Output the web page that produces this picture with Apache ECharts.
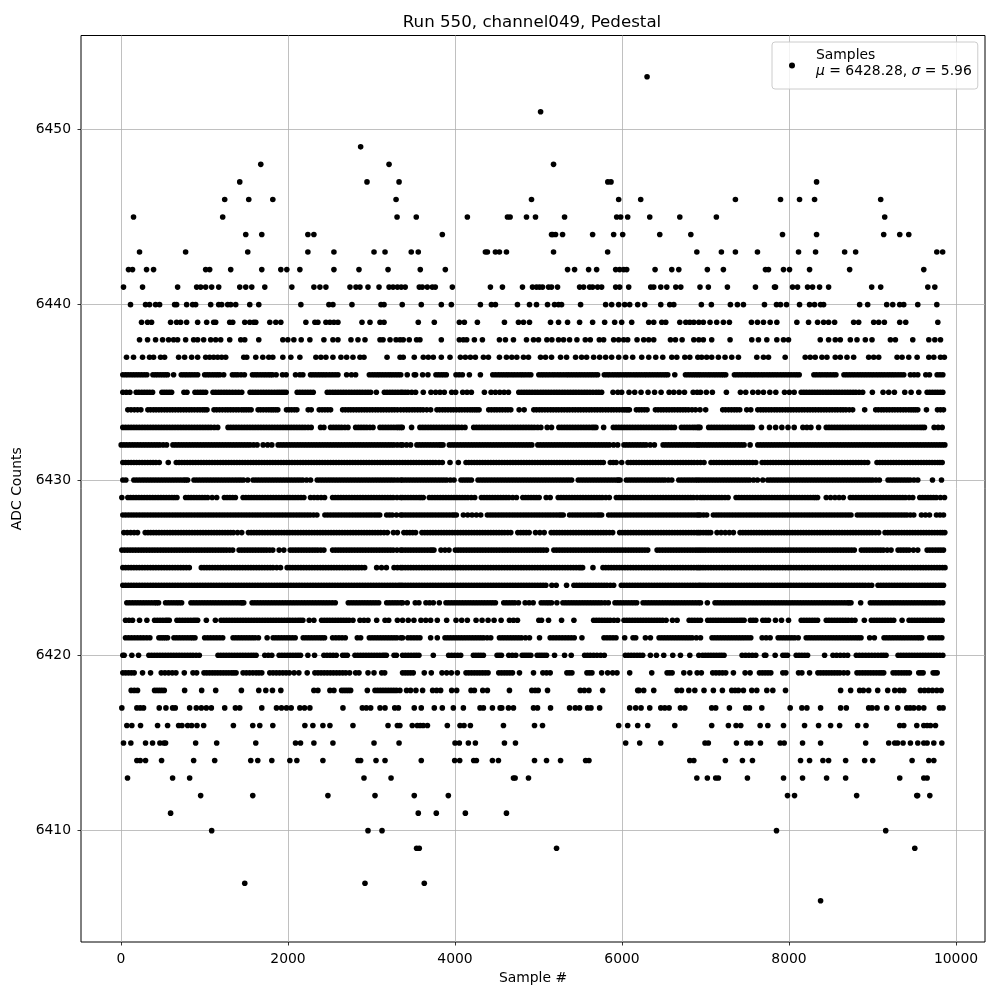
<!DOCTYPE html>
<html>
<head>
<meta charset="utf-8">
<title>Run 550, channel049, Pedestal</title>
<script src="https://cdn.jsdelivr.net/npm/echarts@6/dist/echarts.min.js"></script>
<style>
html, body { margin: 0; padding: 0; background: #fff; }
#main { width: 1000px; height: 1000px; }
</style>
</head>
<body>
<div id="main"></div>
<script>
const xTicks = [0, 2000, 4000, 6000, 8000, 10000]
const yTicks = [6410, 6420, 6430, 6440, 6450]
// sample numbers, one list per ADC level
const s6453 = [6300]
const s6451 = [5025]
const s6449 = [2870]
const s6448 = [1674, 3210, 5180]
const s6447 = [1422, 2946, 3330, 5830, 5868, 8330]
const s6446 = [1242, 1530, 1818, 3294, 4916, 5960, 6224, 7358, 7898, 8126, 8306, 9098]
const s6445 = [150, 1218, 3306, 3536, 4148, 4628, 4660, 4856, 4964, 5312, 5936, 5984, 6068, 6332, 6692, 7130, 9146]
const s6444 = [1494, 1686, 2238, 2310, 3848, 5156, 5170, 5204, 5288, 5648, 5900, 6008, 6452, 6824, 7922, 8330, 9134, 9326, 9434]
const s6443 = [222, 774, 1518, 2238, 2550, 3030, 3162, 3476, 3560, 4364, 4388, 4484, 4532, 4616, 5180, 5828, 6896, 7190, 7358, 7622, 8114, 8318, 8666, 8798, 9770, 9840]
const s6442 = [90, 138, 306, 390, 1014, 1062, 1314, 1686, 1914, 1986, 2142, 2550, 2850, 3198, 3584, 3884, 5348, 5432, 5600, 5696, 5924, 5972, 6020, 6056, 6396, 6596, 6680, 7022, 7214, 7718, 7754, 7934, 8006, 8246, 8726, 9614]
const s6441 = [30, 258, 678, 906, 954, 1014, 1086, 1170, 1422, 1494, 1566, 1722, 2046, 2310, 2382, 2454, 2742, 2814, 2862, 2958, 3090, 3210, 3258, 3310, 3356, 3404, 3572, 3608, 3668, 3728, 3764, 3968, 4424, 4568, 4808, 4928, 4976, 5012, 5048, 5120, 5156, 5228, 5492, 5540, 5612, 5648, 5708, 5756, 5924, 5972, 6080, 6344, 6380, 6464, 6536, 6644, 6704, 6934, 7034, 7262, 7598, 7826, 7838, 8042, 8102, 8222, 8282, 8366, 8474, 8990, 9098, 9662, 9746]
const s6440 = [114, 294, 342, 414, 462, 642, 666, 786, 858, 894, 1074, 1170, 1206, 1278, 1314, 1374, 1542, 1650, 2154, 2490, 2538, 2766, 3114, 3150, 3368, 3596, 3836, 3956, 4304, 4436, 4484, 4748, 4892, 4976, 5108, 5192, 5240, 5276, 5504, 5804, 5876, 5960, 6032, 6092, 6188, 6272, 6464, 6572, 6620, 6950, 7070, 7298, 7382, 7454, 7706, 7850, 7898, 7970, 8126, 8246, 8306, 8378, 8414, 8846, 8942, 9170, 9242, 9326, 9374, 9542, 9770]
const s6439 = [246, 318, 366, 594, 666, 714, 786, 918, 1026, 1110, 1134, 1302, 1338, 1482, 1542, 1590, 1614, 1782, 1854, 1914, 2214, 2322, 2358, 2454, 2502, 2550, 2598, 2886, 2982, 3102, 3150, 3560, 3752, 4052, 4112, 4268, 4592, 4760, 4820, 4892, 5144, 5240, 5348, 5492, 5648, 5792, 5912, 5996, 6116, 6320, 6380, 6476, 6524, 6692, 6764, 6812, 6860, 6920, 6974, 7054, 7134, 7214, 7286, 7550, 7622, 7694, 7774, 7854, 8094, 8234, 8342, 8414, 8474, 8546, 8774, 8834, 9014, 9074, 9142, 9326, 9398, 9782]
const s6438 = [222, 318, 414, 498, 570, 630, 678, 774, 870, 918, 990, 1074, 1134, 1194, 1302, 1434, 1482, 1650, 1938, 1998, 2070, 2158, 2262, 2430, 2538, 2598, 2754, 2838, 2922, 3102, 3138, 3222, 3294, 3342, 3380, 3452, 3540, 3580, 3836, 4052, 4100, 4140, 4232, 4328, 4532, 4604, 4700, 4856, 4940, 5000, 5100, 5160, 5240, 5300, 5372, 5460, 5560, 5620, 5728, 5780, 5900, 5960, 6020, 6068, 6180, 6260, 6320, 6380, 6580, 6640, 6720, 6860, 6920, 6974, 7074, 7294, 7554, 7634, 7734, 7854, 7934, 7994, 8374, 8474, 8554, 8614, 8734, 8814, 8914, 8994, 9214, 9274, 9482, 9674, 9746, 9814]
const s6437 = [66, 150, 258, 342, 390, 474, 522, 690, 762, 846, 918, 1014, 1062, 1110, 1158, 1206, 1254, 1470, 1506, 1614, 1698, 1770, 1818, 1938, 2034, 2142, 2334, 2394, 2454, 2538, 2634, 2702, 2778, 2862, 2910, 3186, 3342, 3380, 3512, 3620, 3680, 3740, 3836, 3940, 4064, 4124, 4184, 4244, 4340, 4400, 4532, 4616, 4680, 4740, 4820, 4880, 5024, 5084, 5156, 5264, 5336, 5444, 5516, 5576, 5660, 5732, 5804, 5876, 5960, 6044, 6128, 6236, 6320, 6404, 6488, 6596, 6656, 6752, 6812, 6908, 6954, 7014, 7074, 7154, 7234, 7314, 7394, 7614, 7694, 7754, 7954, 8194, 8254, 8314, 8394, 8454, 8554, 8614, 8694, 8774, 8954, 9014, 9074, 9294, 9354, 9434, 9534, 9674, 9734, 9814, 9860]
const s6436 = [22, 55, 85, 118, 150, 182, 214, 246, 278, 310, 382, 412, 441, 472, 502, 530, 558, 630, 722, 754, 785, 818, 850, 884, 918, 1002, 1032, 1062, 1094, 1125, 1155, 1184, 1230, 1334, 1366, 1398, 1438, 1478, 1574, 1605, 1635, 1668, 1700, 1730, 1762, 1790, 1815, 1858, 1934, 1978, 2090, 2142, 2178, 2270, 2300, 2332, 2364, 2396, 2428, 2460, 2496, 2530, 2564, 2598, 2702, 2760, 2810, 2974, 3008, 3040, 3072, 3102, 3134, 3166, 3198, 3228, 3258, 3290, 3320, 3350, 3428, 3512, 3528, 3612, 3676, 3772, 3804, 3836, 3866, 3896, 4012, 4050, 4088, 4172, 4304, 4452, 4486, 4520, 4552, 4584, 4616, 4646, 4680, 4712, 4746, 4780, 4810, 4842, 4876, 4908, 5004, 5036, 5066, 5098, 5130, 5164, 5196, 5230, 5262, 5296, 5330, 5360, 5392, 5424, 5456, 5488, 5520, 5552, 5584, 5616, 5646, 5678, 5708, 5788, 5820, 5850, 5884, 5916, 5948, 5978, 6012, 6044, 6074, 6106, 6140, 6172, 6204, 6236, 6268, 6298, 6330, 6362, 6394, 6426, 6458, 6490, 6520, 6548, 6632, 6760, 6792, 6824, 6854, 6884, 6912, 6940, 6972, 7004, 7036, 7066, 7098, 7128, 7160, 7190, 7216, 7242, 7346, 7378, 7410, 7442, 7476, 7508, 7540, 7572, 7604, 7636, 7670, 7702, 7736, 7768, 7800, 7832, 7864, 7898, 7930, 7962, 7994, 8026, 8060, 8092, 8122, 8298, 8330, 8364, 8396, 8430, 8462, 8496, 8530, 8562, 8658, 8690, 8722, 8754, 8786, 8820, 8852, 8884, 8916, 8948, 8980, 9012, 9046, 9078, 9110, 9142, 9176, 9208, 9240, 9272, 9306, 9340, 9374, 9454, 9498, 9542, 9638, 9682, 9774, 9808, 9842]
const s6435 = [22, 64, 106, 182, 214, 248, 280, 312, 344, 378, 490, 518, 548, 578, 606, 754, 790, 886, 918, 950, 982, 1014, 1102, 1134, 1168, 1200, 1234, 1266, 1300, 1336, 1372, 1408, 1446, 1546, 1578, 1610, 1642, 1676, 1708, 1740, 1772, 1804, 1838, 1870, 1898, 1926, 1952, 1978, 2110, 2142, 2174, 2206, 2238, 2270, 2302, 2470, 2502, 2536, 2568, 2600, 2632, 2664, 2696, 2730, 2762, 2796, 2828, 2860, 2892, 2926, 2958, 2990, 3058, 3154, 3186, 3220, 3252, 3284, 3316, 3350, 3372, 3404, 3436, 3482, 3528, 3620, 3712, 3768, 3820, 3872, 3960, 4008, 4092, 4144, 4196, 4352, 4432, 4484, 4536, 4588, 4640, 4764, 4796, 4828, 4860, 4892, 4924, 4958, 4990, 5024, 5056, 5088, 5120, 5152, 5186, 5218, 5250, 5284, 5316, 5350, 5382, 5416, 5448, 5482, 5516, 5550, 5582, 5616, 5652, 5690, 5722, 5756, 5892, 5950, 5996, 6084, 6152, 6228, 6312, 6390, 6468, 6564, 6620, 6684, 6748, 6852, 6900, 6940, 7010, 7082, 7250, 7418, 7482, 7566, 7630, 7694, 7770, 7842, 7946, 8004, 8062, 8146, 8178, 8210, 8244, 8276, 8308, 8340, 8372, 8406, 8440, 8472, 8504, 8538, 8570, 8602, 8636, 8670, 8702, 8734, 8768, 8800, 8840, 8882, 8998, 9126, 9194, 9262, 9386, 9462, 9554, 9654, 9686, 9718, 9750, 9780, 9812, 9842]
const s6434 = [82, 120, 160, 198, 238, 322, 354, 388, 420, 454, 486, 520, 552, 586, 618, 650, 684, 716, 750, 782, 816, 848, 880, 914, 946, 978, 1004, 1030, 1114, 1146, 1180, 1214, 1248, 1280, 1312, 1344, 1378, 1410, 1444, 1472, 1500, 1530, 1558, 1642, 1672, 1704, 1738, 1770, 1798, 1824, 1852, 1878, 1982, 2012, 2044, 2076, 2106, 2242, 2278, 2374, 2408, 2442, 2476, 2510, 2654, 2686, 2720, 2752, 2784, 2818, 2850, 2882, 2914, 2946, 2980, 3012, 3046, 3078, 3112, 3144, 3178, 3210, 3244, 3276, 3310, 3350, 3386, 3420, 3452, 3486, 3518, 3552, 3584, 3618, 3662, 3708, 3784, 3816, 3850, 3882, 3916, 3950, 3982, 4016, 4050, 4082, 4116, 4148, 4180, 4208, 4236, 4262, 4288, 4404, 4436, 4470, 4502, 4536, 4568, 4602, 4634, 4668, 4768, 4828, 4944, 4976, 5010, 5042, 5076, 5110, 5144, 5176, 5210, 5242, 5276, 5308, 5342, 5374, 5408, 5440, 5474, 5506, 5540, 5572, 5606, 5638, 5672, 5704, 5738, 5770, 5804, 5836, 5870, 5902, 5936, 5968, 6002, 6026, 6050, 6070, 6088, 6172, 6204, 6236, 6268, 6300, 6400, 6432, 6466, 6498, 6532, 6564, 6598, 6630, 6664, 6696, 6730, 6762, 6796, 6838, 6880, 6934, 7002, 7206, 7240, 7276, 7310, 7344, 7376, 7410, 7494, 7542, 7626, 7660, 7692, 7724, 7758, 7790, 7824, 7856, 7890, 7922, 7956, 7988, 8022, 8054, 8088, 8120, 8154, 8186, 8220, 8252, 8286, 8318, 8352, 8384, 8418, 8450, 8484, 8516, 8550, 8582, 8616, 8648, 8682, 8722, 8762, 8906, 9038, 9070, 9104, 9136, 9170, 9202, 9236, 9268, 9302, 9334, 9368, 9400, 9434, 9462, 9490, 9516, 9542, 9646, 9778, 9814, 9850]
const s6433 = [22, 55, 88, 121, 154, 187, 220, 253, 286, 319, 352, 385, 418, 451, 484, 517, 550, 583, 616, 649, 682, 715, 748, 781, 814, 847, 880, 913, 946, 979, 1012, 1045, 1078, 1118, 1158, 1282, 1314, 1346, 1379, 1412, 1445, 1478, 1511, 1544, 1577, 1610, 1643, 1676, 1709, 1742, 1775, 1808, 1841, 1874, 1907, 1940, 1973, 2006, 2039, 2072, 2105, 2138, 2171, 2204, 2241, 2278, 2390, 2430, 2510, 2543, 2576, 2609, 2642, 2680, 2718, 2810, 2843, 2876, 2909, 2942, 2980, 3018, 3102, 3135, 3168, 3201, 3234, 3267, 3300, 3325, 3350, 3368, 3480, 3580, 3613, 3646, 3679, 3712, 3745, 3778, 3811, 3844, 3877, 3910, 3943, 3976, 4009, 4042, 4081, 4120, 4224, 4257, 4290, 4323, 4356, 4389, 4422, 4455, 4488, 4521, 4554, 4587, 4620, 4653, 4686, 4719, 4752, 4785, 4818, 4851, 4884, 4917, 4950, 4989, 5028, 5104, 5156, 5244, 5277, 5310, 5343, 5376, 5409, 5442, 5475, 5508, 5541, 5574, 5607, 5640, 5664, 5688, 5780, 5896, 5929, 5962, 5995, 6028, 6061, 6094, 6127, 6160, 6193, 6226, 6259, 6292, 6325, 6358, 6391, 6424, 6457, 6490, 6523, 6556, 6592, 6628, 6712, 6745, 6778, 6811, 6844, 6872, 6900, 6917, 6934, 7038, 7071, 7104, 7137, 7170, 7203, 7236, 7269, 7302, 7335, 7368, 7401, 7434, 7467, 7500, 7531, 7562, 7670, 7766, 7840, 7914, 7988, 8062, 8166, 8214, 8262, 8354, 8446, 8479, 8512, 8545, 8578, 8611, 8644, 8677, 8710, 8743, 8776, 8809, 8842, 8875, 8908, 8941, 8974, 9007, 9040, 9073, 9106, 9139, 9172, 9205, 9238, 9271, 9304, 9337, 9370, 9403, 9436, 9469, 9502, 9535, 9568, 9595, 9622, 9738, 9786, 9834]
const s6432 = [2, 35, 68, 101, 134, 167, 200, 233, 266, 299, 332, 365, 398, 431, 464, 505, 546, 622, 655, 688, 721, 754, 787, 820, 853, 886, 919, 952, 985, 1018, 1051, 1084, 1117, 1150, 1183, 1216, 1249, 1282, 1315, 1348, 1381, 1414, 1447, 1480, 1513, 1546, 1588, 1630, 1702, 1756, 1806, 1882, 1915, 1948, 1981, 2014, 2047, 2080, 2113, 2146, 2179, 2212, 2245, 2278, 2311, 2344, 2377, 2410, 2443, 2476, 2509, 2542, 2575, 2608, 2641, 2674, 2707, 2740, 2773, 2806, 2839, 2872, 2905, 2938, 2971, 3004, 3037, 3070, 3103, 3136, 3169, 3202, 3235, 3268, 3309, 3350, 3372, 3420, 3468, 3544, 3577, 3610, 3643, 3676, 3709, 3742, 3775, 3808, 3832, 3856, 3932, 3965, 3998, 4031, 4064, 4097, 4130, 4163, 4196, 4229, 4262, 4295, 4328, 4361, 4394, 4427, 4460, 4493, 4526, 4559, 4592, 4625, 4658, 4691, 4724, 4757, 4790, 4823, 4856, 4888, 4920, 4992, 5025, 5058, 5091, 5124, 5157, 5190, 5223, 5256, 5289, 5322, 5355, 5388, 5421, 5454, 5487, 5520, 5553, 5586, 5619, 5652, 5685, 5718, 5751, 5784, 5817, 5850, 5899, 5948, 6024, 6057, 6090, 6123, 6156, 6189, 6222, 6255, 6288, 6338, 6388, 6492, 6525, 6558, 6591, 6624, 6657, 6690, 6723, 6756, 6789, 6822, 6855, 6888, 6911, 6934, 6967, 7000, 7033, 7066, 7099, 7132, 7165, 7198, 7231, 7264, 7297, 7330, 7363, 7396, 7429, 7462, 7534, 7626, 7659, 7692, 7725, 7758, 7791, 7824, 7857, 7890, 7923, 7956, 7989, 8022, 8055, 8088, 8121, 8154, 8187, 8220, 8253, 8286, 8319, 8352, 8385, 8418, 8451, 8484, 8517, 8550, 8583, 8616, 8649, 8682, 8715, 8748, 8781, 8814, 8847, 8880, 8913, 8946, 8979, 9012, 9045, 9078, 9111, 9144, 9177, 9210, 9243, 9276, 9309, 9342, 9375, 9408, 9441, 9474, 9507, 9540, 9573, 9606, 9639, 9672, 9705, 9738, 9771, 9804, 9835, 9866]
const s6431 = [22, 55, 88, 121, 154, 187, 220, 253, 286, 319, 352, 385, 418, 458, 566, 662, 695, 728, 761, 794, 827, 860, 893, 926, 959, 992, 1025, 1058, 1091, 1124, 1157, 1190, 1223, 1256, 1289, 1322, 1355, 1388, 1421, 1454, 1487, 1520, 1553, 1586, 1619, 1652, 1685, 1718, 1751, 1784, 1817, 1850, 1883, 1916, 1949, 1982, 2015, 2048, 2081, 2114, 2147, 2180, 2213, 2246, 2279, 2312, 2345, 2378, 2411, 2444, 2477, 2510, 2543, 2576, 2609, 2642, 2675, 2708, 2741, 2774, 2807, 2840, 2873, 2906, 2939, 2972, 3005, 3038, 3071, 3104, 3137, 3170, 3203, 3236, 3269, 3302, 3337, 3372, 3405, 3438, 3471, 3504, 3537, 3570, 3603, 3636, 3669, 3702, 3735, 3768, 3808, 3848, 3940, 4040, 4132, 4165, 4198, 4231, 4264, 4297, 4330, 4363, 4396, 4429, 4462, 4495, 4528, 4561, 4594, 4627, 4660, 4693, 4726, 4759, 4792, 4825, 4858, 4891, 4924, 4957, 4990, 5023, 5056, 5089, 5122, 5155, 5188, 5221, 5254, 5287, 5320, 5353, 5386, 5419, 5452, 5485, 5518, 5551, 5584, 5617, 5650, 5683, 5716, 5746, 5776, 5860, 5895, 5930, 5996, 6072, 6105, 6138, 6171, 6204, 6237, 6270, 6303, 6336, 6369, 6402, 6435, 6468, 6501, 6534, 6567, 6600, 6633, 6666, 6699, 6732, 6765, 6798, 6831, 6864, 6902, 6940, 6982, 7066, 7099, 7132, 7165, 7198, 7231, 7264, 7297, 7330, 7363, 7396, 7429, 7462, 7495, 7528, 7565, 7602, 7678, 7711, 7744, 7777, 7810, 7843, 7876, 7909, 7942, 7975, 8008, 8041, 8074, 8107, 8140, 8173, 8206, 8239, 8272, 8305, 8338, 8371, 8404, 8437, 8470, 8503, 8536, 8569, 8602, 8635, 8668, 8701, 8734, 8767, 8800, 8833, 8866, 8904, 8942, 9054, 9087, 9120, 9153, 9186, 9219, 9252, 9285, 9318, 9351, 9384, 9417, 9450, 9483, 9516, 9549, 9582, 9615, 9648, 9681, 9714, 9747, 9780, 9807, 9834]
const s6430 = [22, 58, 154, 187, 220, 253, 286, 319, 352, 385, 418, 451, 484, 517, 550, 583, 616, 649, 682, 715, 748, 773, 798, 874, 907, 940, 973, 1006, 1039, 1072, 1105, 1138, 1171, 1204, 1237, 1270, 1303, 1336, 1369, 1402, 1434, 1466, 1518, 1582, 1615, 1648, 1681, 1714, 1747, 1780, 1813, 1846, 1879, 1912, 1945, 1978, 2011, 2044, 2077, 2110, 2143, 2176, 2223, 2270, 2350, 2383, 2416, 2449, 2482, 2515, 2548, 2581, 2614, 2647, 2680, 2713, 2746, 2779, 2812, 2845, 2878, 2911, 2944, 2977, 3010, 3043, 3076, 3109, 3142, 3175, 3208, 3241, 3274, 3312, 3350, 3372, 3405, 3438, 3471, 3504, 3537, 3570, 3603, 3636, 3669, 3702, 3735, 3768, 3801, 3834, 3867, 3900, 3944, 3988, 4072, 4103, 4134, 4165, 4196, 4276, 4309, 4342, 4375, 4408, 4441, 4474, 4507, 4540, 4573, 4606, 4639, 4672, 4705, 4738, 4771, 4804, 4837, 4870, 4903, 4936, 4969, 5002, 5035, 5068, 5101, 5134, 5167, 5200, 5233, 5266, 5299, 5332, 5364, 5396, 5476, 5509, 5542, 5575, 5608, 5641, 5674, 5707, 5740, 5773, 5806, 5839, 5872, 5905, 5938, 5957, 5976, 6052, 6085, 6118, 6151, 6184, 6217, 6250, 6283, 6316, 6349, 6382, 6415, 6448, 6481, 6514, 6555, 6596, 6680, 6713, 6746, 6779, 6812, 6845, 6878, 6906, 6934, 6967, 7000, 7033, 7066, 7099, 7132, 7165, 7198, 7231, 7264, 7297, 7330, 7363, 7396, 7429, 7462, 7495, 7528, 7575, 7622, 7686, 7746, 7779, 7812, 7845, 7878, 7911, 7944, 7977, 8010, 8043, 8076, 8109, 8142, 8175, 8208, 8241, 8274, 8307, 8340, 8373, 8406, 8439, 8472, 8505, 8538, 8571, 8604, 8637, 8670, 8703, 8736, 8769, 8802, 8835, 8868, 8901, 8934, 8967, 9000, 9041, 9082, 9186, 9219, 9252, 9285, 9318, 9351, 9384, 9417, 9450, 9496, 9542, 9718, 9826]
const s6429 = [10, 82, 115, 148, 181, 214, 247, 280, 313, 346, 379, 412, 445, 478, 511, 544, 577, 610, 640, 670, 774, 807, 840, 873, 906, 939, 972, 1005, 1038, 1092, 1146, 1238, 1271, 1304, 1337, 1370, 1462, 1495, 1528, 1561, 1594, 1627, 1660, 1693, 1726, 1759, 1792, 1825, 1858, 1891, 1924, 1957, 1990, 2023, 2056, 2089, 2122, 2156, 2190, 2270, 2312, 2354, 2396, 2438, 2534, 2567, 2600, 2633, 2666, 2699, 2732, 2765, 2798, 2831, 2864, 2897, 2930, 2963, 2996, 3029, 3062, 3095, 3128, 3161, 3194, 3227, 3260, 3305, 3350, 3372, 3405, 3438, 3471, 3504, 3537, 3570, 3595, 3620, 3692, 3725, 3758, 3791, 3824, 3857, 3890, 3923, 3956, 3989, 4022, 4055, 4088, 4121, 4154, 4195, 4236, 4316, 4349, 4382, 4415, 4448, 4481, 4514, 4547, 4580, 4613, 4646, 4691, 4736, 4812, 4845, 4878, 4911, 4944, 4976, 5008, 5092, 5140, 5236, 5269, 5302, 5335, 5368, 5401, 5434, 5467, 5500, 5533, 5566, 5599, 5632, 5665, 5698, 5731, 5764, 5806, 5848, 5932, 5965, 5998, 6031, 6064, 6097, 6130, 6163, 6196, 6229, 6262, 6295, 6328, 6361, 6394, 6427, 6460, 6493, 6526, 6559, 6592, 6625, 6658, 6691, 6724, 6757, 6790, 6823, 6856, 6898, 6940, 6969, 6998, 7031, 7064, 7097, 7130, 7163, 7196, 7233, 7270, 7366, 7399, 7432, 7465, 7498, 7531, 7564, 7597, 7630, 7663, 7696, 7729, 7762, 7795, 7828, 7861, 7894, 7927, 7960, 7993, 8026, 8059, 8092, 8125, 8158, 8191, 8224, 8257, 8290, 8316, 8342, 8446, 8498, 8550, 8600, 8650, 8734, 8767, 8800, 8833, 8866, 8899, 8932, 8965, 8998, 9031, 9064, 9097, 9130, 9163, 9196, 9229, 9262, 9295, 9328, 9361, 9394, 9438, 9482, 9566, 9599, 9632, 9665, 9698, 9731, 9764, 9813, 9862]
const s6428 = [22, 55, 88, 121, 154, 187, 220, 253, 286, 319, 352, 385, 418, 451, 484, 517, 550, 583, 616, 649, 682, 715, 748, 781, 814, 847, 880, 913, 946, 979, 1012, 1045, 1078, 1111, 1144, 1177, 1210, 1243, 1276, 1309, 1342, 1375, 1408, 1441, 1474, 1507, 1540, 1573, 1606, 1639, 1672, 1705, 1738, 1771, 1804, 1837, 1870, 1903, 1936, 1969, 2002, 2035, 2068, 2101, 2134, 2167, 2200, 2233, 2266, 2306, 2346, 2442, 2475, 2508, 2541, 2574, 2607, 2640, 2673, 2706, 2739, 2772, 2805, 2838, 2871, 2904, 2937, 2970, 3003, 3036, 3067, 3098, 3182, 3215, 3248, 3299, 3350, 3372, 3405, 3438, 3471, 3504, 3537, 3570, 3603, 3636, 3669, 3702, 3735, 3768, 3801, 3834, 3867, 3900, 3933, 3966, 3991, 4016, 4100, 4152, 4204, 4256, 4308, 4388, 4421, 4454, 4487, 4520, 4553, 4586, 4619, 4652, 4685, 4718, 4751, 4784, 4817, 4850, 4883, 4916, 4949, 4982, 5015, 5048, 5081, 5114, 5147, 5180, 5213, 5246, 5271, 5296, 5372, 5405, 5438, 5471, 5504, 5537, 5570, 5603, 5636, 5669, 5702, 5729, 5756, 5840, 5873, 5906, 5939, 5972, 6005, 6038, 6071, 6104, 6137, 6170, 6203, 6236, 6269, 6302, 6335, 6368, 6401, 6434, 6467, 6500, 6533, 6566, 6599, 6632, 6665, 6698, 6731, 6764, 6797, 6830, 6863, 6896, 6918, 6940, 6977, 7014, 7094, 7127, 7160, 7193, 7226, 7259, 7292, 7325, 7358, 7391, 7424, 7457, 7490, 7523, 7556, 7589, 7622, 7655, 7688, 7721, 7754, 7787, 7820, 7853, 7886, 7919, 7952, 7985, 8018, 8051, 8084, 8117, 8150, 8183, 8216, 8249, 8282, 8315, 8348, 8381, 8414, 8447, 8480, 8513, 8546, 8579, 8612, 8645, 8678, 8710, 8742, 8818, 8851, 8884, 8917, 8950, 8983, 9016, 9049, 9082, 9115, 9148, 9181, 9214, 9247, 9280, 9313, 9346, 9379, 9412, 9453, 9494, 9586, 9634, 9682, 9766, 9808, 9850]
const s6427 = [34, 75, 116, 157, 198, 290, 323, 356, 389, 422, 455, 488, 521, 554, 587, 620, 653, 686, 719, 752, 785, 818, 851, 884, 917, 950, 983, 1016, 1049, 1082, 1115, 1148, 1181, 1214, 1247, 1280, 1313, 1346, 1396, 1446, 1526, 1559, 1592, 1625, 1658, 1691, 1724, 1757, 1790, 1823, 1856, 1889, 1922, 1955, 1988, 2021, 2054, 2087, 2120, 2153, 2186, 2219, 2252, 2285, 2318, 2351, 2384, 2417, 2450, 2483, 2516, 2549, 2582, 2615, 2648, 2681, 2714, 2747, 2780, 2813, 2846, 2879, 2912, 2945, 2978, 3011, 3044, 3077, 3110, 3150, 3190, 3262, 3310, 3388, 3423, 3458, 3493, 3528, 3604, 3637, 3670, 3703, 3736, 3769, 3802, 3835, 3868, 3901, 3934, 3967, 4000, 4033, 4066, 4099, 4132, 4165, 4198, 4231, 4264, 4297, 4330, 4363, 4396, 4429, 4462, 4495, 4528, 4561, 4594, 4631, 4668, 4752, 4786, 4820, 4854, 4888, 4964, 5016, 5068, 5152, 5185, 5218, 5251, 5284, 5317, 5350, 5383, 5416, 5449, 5482, 5515, 5548, 5581, 5614, 5647, 5680, 5713, 5746, 5779, 5812, 5850, 5888, 5972, 6005, 6038, 6071, 6104, 6137, 6170, 6203, 6236, 6269, 6302, 6335, 6368, 6401, 6434, 6467, 6500, 6533, 6566, 6599, 6632, 6665, 6698, 6731, 6764, 6797, 6830, 6863, 6896, 6918, 6940, 6973, 7006, 7034, 7062, 7138, 7187, 7236, 7285, 7334, 7414, 7447, 7480, 7513, 7546, 7579, 7612, 7645, 7678, 7711, 7744, 7777, 7810, 7843, 7876, 7909, 7942, 7975, 8008, 8041, 8074, 8107, 8140, 8173, 8206, 8239, 8272, 8305, 8338, 8371, 8404, 8437, 8470, 8503, 8536, 8569, 8602, 8635, 8668, 8701, 8734, 8767, 8800, 8833, 8866, 8899, 8932, 8965, 8998, 9036, 9074, 9150, 9183, 9216, 9249, 9282, 9315, 9348, 9381, 9414, 9447, 9480, 9513, 9546, 9579, 9612, 9645, 9678, 9711, 9744, 9777, 9810, 9838, 9866]
const s6426 = [10, 43, 76, 109, 142, 175, 208, 241, 274, 307, 340, 373, 406, 439, 472, 505, 538, 571, 604, 637, 670, 703, 736, 769, 802, 835, 868, 901, 934, 967, 1000, 1033, 1066, 1099, 1132, 1165, 1198, 1231, 1264, 1301, 1338, 1414, 1447, 1480, 1513, 1546, 1579, 1612, 1645, 1678, 1711, 1744, 1781, 1818, 1894, 1950, 2026, 2059, 2092, 2125, 2158, 2191, 2224, 2257, 2290, 2323, 2356, 2393, 2430, 2534, 2567, 2600, 2633, 2666, 2699, 2732, 2765, 2798, 2831, 2864, 2897, 2930, 2963, 2996, 3029, 3062, 3095, 3128, 3161, 3194, 3227, 3260, 3305, 3350, 3372, 3405, 3438, 3471, 3504, 3537, 3570, 3603, 3636, 3669, 3702, 3725, 3748, 3832, 3880, 3928, 4004, 4037, 4070, 4103, 4136, 4169, 4202, 4235, 4268, 4301, 4334, 4367, 4400, 4433, 4466, 4499, 4532, 4565, 4598, 4631, 4664, 4697, 4730, 4763, 4796, 4829, 4862, 4895, 4928, 4961, 4994, 5027, 5060, 5096, 5184, 5217, 5250, 5283, 5316, 5349, 5382, 5415, 5448, 5481, 5514, 5547, 5580, 5613, 5646, 5679, 5712, 5745, 5778, 5811, 5844, 5877, 5910, 5943, 5976, 6009, 6042, 6075, 6108, 6141, 6174, 6207, 6240, 6274, 6308, 6420, 6453, 6486, 6519, 6552, 6585, 6618, 6651, 6684, 6717, 6750, 6783, 6816, 6849, 6882, 6911, 6940, 6970, 7000, 7033, 7066, 7099, 7132, 7165, 7198, 7231, 7264, 7297, 7330, 7363, 7396, 7429, 7462, 7495, 7528, 7561, 7594, 7627, 7660, 7693, 7726, 7759, 7792, 7825, 7858, 7891, 7924, 7957, 7990, 8023, 8056, 8089, 8122, 8155, 8188, 8221, 8254, 8287, 8320, 8353, 8386, 8419, 8452, 8485, 8518, 8551, 8584, 8617, 8650, 8683, 8716, 8749, 8782, 8866, 8899, 8932, 8965, 8998, 9031, 9064, 9097, 9130, 9176, 9222, 9306, 9339, 9372, 9405, 9438, 9490, 9542, 9654, 9687, 9720, 9753, 9786, 9818, 9850]
const s6425 = [22, 55, 88, 121, 154, 187, 220, 253, 286, 319, 352, 385, 418, 451, 484, 517, 550, 583, 616, 649, 682, 715, 748, 783, 818, 962, 995, 1028, 1061, 1094, 1127, 1160, 1193, 1226, 1259, 1292, 1325, 1358, 1391, 1424, 1457, 1490, 1523, 1556, 1589, 1622, 1655, 1688, 1721, 1754, 1787, 1820, 1865, 1910, 1990, 2023, 2056, 2089, 2122, 2155, 2188, 2221, 2254, 2287, 2320, 2353, 2386, 2419, 2452, 2485, 2518, 2551, 2584, 2617, 2650, 2683, 2716, 2749, 2782, 2815, 2848, 2883, 2918, 3062, 3120, 3178, 3270, 3310, 3350, 3372, 3405, 3438, 3471, 3504, 3537, 3570, 3603, 3636, 3669, 3702, 3735, 3768, 3801, 3834, 3867, 3900, 3933, 3966, 3999, 4032, 4065, 4098, 4131, 4164, 4197, 4230, 4263, 4296, 4329, 4362, 4395, 4428, 4461, 4494, 4527, 4560, 4593, 4626, 4659, 4692, 4725, 4758, 4791, 4824, 4857, 4890, 4923, 4956, 4989, 5022, 5055, 5088, 5121, 5154, 5187, 5220, 5253, 5286, 5319, 5352, 5385, 5418, 5451, 5484, 5506, 5528, 5652, 5772, 5805, 5838, 5871, 5904, 5937, 5970, 6003, 6036, 6069, 6102, 6135, 6168, 6201, 6234, 6267, 6300, 6333, 6366, 6399, 6432, 6465, 6498, 6531, 6564, 6597, 6630, 6663, 6696, 6729, 6762, 6795, 6828, 6861, 6894, 6917, 6940, 6970, 7000, 7033, 7066, 7099, 7132, 7165, 7198, 7231, 7264, 7297, 7330, 7363, 7396, 7429, 7462, 7495, 7528, 7561, 7594, 7627, 7660, 7693, 7726, 7759, 7792, 7825, 7858, 7891, 7924, 7957, 7990, 8023, 8056, 8089, 8122, 8155, 8188, 8221, 8254, 8287, 8320, 8353, 8386, 8419, 8452, 8485, 8518, 8551, 8584, 8617, 8650, 8683, 8716, 8749, 8782, 8815, 8848, 8881, 8914, 8947, 8980, 9013, 9046, 9079, 9112, 9145, 9178, 9211, 9244, 9277, 9310, 9343, 9376, 9409, 9442, 9475, 9508, 9541, 9574, 9607, 9640, 9673, 9706, 9739, 9772, 9805, 9838, 9868]
const s6424 = [22, 55, 88, 121, 154, 187, 220, 253, 286, 319, 352, 385, 418, 451, 484, 517, 550, 583, 616, 649, 682, 715, 748, 781, 814, 847, 880, 913, 946, 979, 1012, 1045, 1078, 1111, 1144, 1177, 1210, 1243, 1276, 1309, 1342, 1375, 1408, 1441, 1474, 1507, 1540, 1573, 1606, 1639, 1672, 1705, 1738, 1771, 1804, 1837, 1870, 1903, 1936, 1969, 2002, 2035, 2068, 2101, 2134, 2167, 2200, 2233, 2266, 2299, 2332, 2365, 2398, 2431, 2464, 2497, 2530, 2563, 2596, 2629, 2662, 2695, 2728, 2761, 2794, 2827, 2860, 2893, 2926, 2959, 2992, 3025, 3058, 3091, 3124, 3157, 3190, 3223, 3256, 3289, 3322, 3347, 3372, 3405, 3438, 3471, 3504, 3537, 3570, 3603, 3636, 3669, 3702, 3735, 3768, 3801, 3834, 3867, 3900, 3933, 3966, 3999, 4032, 4065, 4098, 4131, 4164, 4197, 4230, 4263, 4296, 4329, 4362, 4395, 4428, 4461, 4494, 4527, 4560, 4593, 4626, 4659, 4692, 4725, 4758, 4791, 4824, 4857, 4890, 4923, 4956, 4989, 5022, 5055, 5088, 5160, 5212, 5336, 5424, 5457, 5490, 5523, 5556, 5589, 5622, 5655, 5688, 5721, 5754, 5787, 5820, 5860, 5900, 5992, 6025, 6058, 6091, 6124, 6157, 6190, 6223, 6256, 6289, 6322, 6355, 6388, 6421, 6454, 6487, 6520, 6553, 6586, 6619, 6652, 6685, 6718, 6751, 6784, 6817, 6850, 6883, 6916, 6940, 6970, 7000, 7033, 7066, 7099, 7132, 7165, 7198, 7231, 7264, 7297, 7330, 7363, 7396, 7429, 7462, 7495, 7528, 7561, 7594, 7627, 7660, 7693, 7726, 7759, 7792, 7825, 7858, 7891, 7924, 7957, 7990, 8023, 8056, 8089, 8122, 8155, 8188, 8221, 8254, 8287, 8320, 8353, 8386, 8419, 8452, 8485, 8518, 8551, 8584, 8617, 8650, 8683, 8716, 8749, 8782, 8815, 8848, 8881, 8914, 8952, 8990, 9066, 9099, 9132, 9165, 9198, 9231, 9264, 9297, 9330, 9363, 9396, 9429, 9462, 9495, 9528, 9561, 9594, 9627, 9660, 9693, 9726, 9759, 9792, 9821, 9850]
const s6423 = [70, 103, 136, 169, 202, 235, 268, 301, 334, 367, 400, 425, 450, 534, 567, 600, 633, 666, 696, 726, 838, 871, 904, 937, 970, 1003, 1036, 1069, 1102, 1135, 1168, 1201, 1234, 1267, 1300, 1333, 1366, 1399, 1432, 1451, 1470, 1570, 1603, 1636, 1669, 1702, 1735, 1768, 1801, 1834, 1867, 1900, 1933, 1966, 1999, 2032, 2065, 2098, 2131, 2164, 2197, 2230, 2263, 2296, 2329, 2362, 2395, 2428, 2461, 2494, 2530, 2566, 2722, 2755, 2788, 2821, 2854, 2887, 2920, 2953, 2986, 3019, 3052, 3086, 3182, 3215, 3248, 3281, 3314, 3350, 3372, 3428, 3524, 3568, 3652, 3696, 3740, 3812, 3892, 3925, 3958, 3991, 4024, 4057, 4090, 4123, 4156, 4189, 4222, 4255, 4288, 4321, 4354, 4387, 4420, 4452, 4484, 4584, 4617, 4650, 4683, 4716, 4760, 4840, 4888, 4936, 5032, 5065, 5098, 5127, 5156, 5220, 5292, 5325, 5358, 5391, 5424, 5457, 5490, 5523, 5556, 5589, 5622, 5655, 5688, 5721, 5754, 5795, 5836, 5916, 5949, 5982, 6015, 6048, 6081, 6114, 6145, 6176, 6252, 6285, 6318, 6351, 6384, 6417, 6450, 6483, 6516, 6549, 6582, 6615, 6648, 6681, 6714, 6747, 6780, 6813, 6846, 6879, 6912, 6940, 7022, 7114, 7147, 7180, 7213, 7246, 7279, 7312, 7345, 7378, 7411, 7444, 7477, 7510, 7543, 7576, 7609, 7642, 7675, 7708, 7741, 7774, 7807, 7840, 7873, 7906, 7939, 7972, 8005, 8038, 8071, 8104, 8137, 8170, 8203, 8236, 8269, 8302, 8335, 8368, 8401, 8434, 8467, 8500, 8533, 8566, 8599, 8632, 8665, 8698, 8720, 8742, 8858, 8974, 9007, 9040, 9073, 9106, 9139, 9172, 9205, 9238, 9271, 9304, 9337, 9370, 9403, 9436, 9469, 9502, 9535, 9568, 9601, 9634, 9667, 9700, 9733, 9766, 9804, 9842]
const s6422 = [54, 96, 138, 222, 310, 402, 435, 468, 501, 534, 556, 578, 670, 703, 736, 769, 802, 835, 868, 893, 918, 1022, 1130, 1198, 1231, 1264, 1297, 1330, 1363, 1396, 1429, 1462, 1495, 1528, 1561, 1594, 1627, 1660, 1693, 1726, 1759, 1792, 1825, 1858, 1891, 1924, 1957, 1990, 2023, 2056, 2089, 2122, 2150, 2178, 2254, 2310, 2402, 2435, 2468, 2501, 2534, 2567, 2600, 2633, 2666, 2699, 2732, 2778, 2862, 2910, 2958, 3062, 3162, 3206, 3310, 3372, 3440, 3508, 3592, 3650, 3708, 3788, 3900, 4012, 4080, 4148, 4252, 4324, 4396, 4468, 4552, 4652, 4700, 4748, 5004, 5036, 5120, 5276, 5424, 5660, 5693, 5726, 5759, 5792, 5825, 5858, 5903, 5948, 6024, 6057, 6090, 6123, 6156, 6189, 6222, 6255, 6288, 6321, 6354, 6387, 6420, 6453, 6486, 6528, 6604, 6660, 6804, 6837, 6870, 6905, 6940, 7026, 7058, 7090, 7122, 7154, 7186, 7218, 7250, 7282, 7314, 7346, 7378, 7410, 7436, 7462, 7538, 7570, 7602, 7686, 7720, 7754, 7838, 7910, 7994, 8146, 8179, 8212, 8245, 8278, 8310, 8342, 8446, 8479, 8512, 8545, 8578, 8611, 8644, 8677, 8710, 8750, 8790, 8902, 8986, 9019, 9052, 9085, 9118, 9151, 9184, 9219, 9254, 9354, 9438, 9471, 9504, 9537, 9570, 9603, 9636, 9669, 9702, 9735, 9768, 9801, 9834]
const s6421 = [54, 90, 126, 162, 198, 234, 270, 308, 346, 454, 480, 506, 532, 558, 634, 667, 700, 733, 766, 799, 832, 859, 886, 1002, 1038, 1074, 1110, 1146, 1182, 1218, 1342, 1375, 1408, 1441, 1474, 1507, 1540, 1573, 1606, 1646, 1750, 1822, 1855, 1888, 1921, 1954, 1987, 2020, 2053, 2086, 2182, 2215, 2248, 2281, 2314, 2347, 2380, 2409, 2438, 2534, 2572, 2610, 2648, 2686, 2830, 2870, 2974, 3007, 3040, 3073, 3106, 3139, 3172, 3205, 3238, 3271, 3304, 3350, 3372, 3436, 3472, 3508, 3544, 3580, 3708, 3788, 3880, 3913, 3946, 3979, 4012, 4045, 4078, 4111, 4144, 4177, 4210, 4243, 4276, 4309, 4342, 4385, 4428, 4532, 4565, 4598, 4631, 4664, 4697, 4730, 4763, 4796, 4844, 4892, 5012, 5140, 5176, 5212, 5248, 5284, 5320, 5356, 5392, 5428, 5520, 5784, 5820, 5856, 5892, 5928, 6032, 6132, 6164, 6280, 6340, 6444, 6477, 6510, 6543, 6576, 6609, 6642, 6675, 6708, 6741, 6774, 6807, 6840, 6890, 6940, 7078, 7111, 7144, 7177, 7210, 7243, 7276, 7309, 7342, 7375, 7408, 7441, 7474, 7508, 7542, 7678, 7726, 7774, 7870, 7903, 7936, 7969, 8002, 8035, 8068, 8110, 8206, 8239, 8272, 8305, 8338, 8371, 8404, 8437, 8470, 8503, 8536, 8569, 8602, 8635, 8668, 8701, 8734, 8767, 8800, 8831, 8862, 8966, 9022, 9138, 9171, 9204, 9237, 9270, 9303, 9336, 9369, 9402, 9435, 9468, 9501, 9534, 9562, 9590, 9686, 9722, 9758, 9794, 9830]
const s6420 = [22, 38, 130, 210, 334, 367, 400, 433, 466, 499, 532, 565, 598, 631, 664, 697, 730, 763, 796, 829, 862, 900, 938, 1162, 1195, 1228, 1261, 1294, 1327, 1360, 1393, 1426, 1459, 1492, 1525, 1558, 1588, 1618, 1722, 1764, 1806, 1894, 1927, 1960, 1993, 2026, 2059, 2092, 2121, 2150, 2238, 2318, 2430, 2467, 2504, 2541, 2578, 2654, 2682, 2710, 2802, 2835, 2868, 2901, 2934, 2967, 3000, 3033, 3066, 3099, 3132, 3155, 3178, 3270, 3298, 3372, 3406, 3440, 3474, 3508, 3538, 3568, 3740, 3924, 3960, 3996, 4032, 4068, 4220, 4250, 4280, 4310, 4340, 4504, 4530, 4556, 4644, 4686, 4728, 4804, 4830, 4856, 4882, 4908, 4984, 5012, 5040, 5068, 5096, 5192, 5312, 5392, 5552, 5586, 5620, 5660, 5700, 5744, 5788, 6040, 6075, 6110, 6145, 6180, 6214, 6248, 6340, 6412, 6500, 6608, 6700, 6812, 6920, 6966, 6999, 7032, 7065, 7098, 7131, 7164, 7193, 7222, 7438, 7479, 7520, 7561, 7602, 7706, 7722, 7834, 7926, 7954, 7982, 8086, 8120, 8154, 8188, 8222, 8426, 8526, 8570, 8614, 8658, 8702, 8806, 8843, 8880, 8917, 8954, 8991, 9028, 9065, 9102, 9132, 9162, 9306, 9339, 9372, 9405, 9438, 9471, 9504, 9537, 9570, 9603, 9636, 9669, 9702, 9735, 9768, 9805, 9842]
const s6419 = [22, 56, 90, 124, 158, 258, 354, 482, 526, 570, 614, 658, 758, 862, 906, 994, 1027, 1060, 1093, 1126, 1159, 1192, 1225, 1258, 1291, 1324, 1351, 1378, 1462, 1501, 1540, 1579, 1618, 1652, 1686, 1782, 1821, 1860, 1899, 1938, 1977, 2016, 2073, 2130, 2230, 2322, 2359, 2396, 2433, 2470, 2507, 2544, 2581, 2618, 2655, 2692, 2738, 2810, 2850, 2958, 3030, 3122, 3158, 3372, 3404, 3436, 3468, 3500, 3632, 3716, 3844, 3900, 3956, 4028, 4132, 4165, 4198, 4231, 4264, 4297, 4330, 4363, 4396, 4524, 4557, 4590, 4623, 4656, 4688, 4772, 4940, 5052, 5096, 5140, 5340, 5370, 5400, 5580, 5610, 5640, 5756, 5828, 5888, 5940, 6092, 6356, 6540, 6570, 6600, 6740, 6812, 6900, 6950, 7086, 7125, 7164, 7203, 7242, 7334, 7474, 7534, 7646, 7680, 7714, 7748, 7782, 7926, 7962, 8114, 8154, 8246, 8346, 8379, 8412, 8445, 8478, 8511, 8544, 8577, 8610, 8656, 8702, 8814, 8847, 8880, 8913, 8946, 8979, 9012, 9045, 9078, 9106, 9134, 9246, 9279, 9312, 9345, 9378, 9410, 9442, 9554, 9580, 9606, 9726, 9750, 9774]
const s6418 = [122, 160, 198, 402, 431, 460, 489, 518, 762, 966, 1134, 1442, 1650, 1734, 1814, 1914, 2310, 2358, 2502, 2550, 2642, 2669, 2696, 2723, 2750, 2950, 3042, 3074, 3106, 3138, 3170, 3202, 3234, 3266, 3298, 3340, 3420, 3468, 3532, 3612, 3732, 3780, 3828, 3960, 4020, 4192, 4232, 4332, 4388, 4652, 4920, 4960, 4996, 5108, 5500, 5548, 5604, 5768, 6188, 6204, 6260, 6380, 6660, 6712, 6800, 6872, 6982, 7094, 7202, 7314, 7354, 7394, 7454, 7554, 7614, 7734, 7806, 7958, 8618, 8738, 8846, 8890, 8954, 9062, 9182, 9266, 9326, 9374, 9574, 9622, 9670, 9718, 9770, 9822]
const s6417 = [10, 190, 230, 270, 458, 538, 618, 650, 822, 902, 962, 1022, 1082, 1242, 1370, 1422, 1686, 1862, 1922, 1982, 2038, 2142, 2198, 2262, 2658, 2890, 2938, 2990, 3102, 3162, 3278, 3322, 3512, 3596, 3752, 3848, 3980, 4100, 4300, 4340, 4448, 4540, 4560, 4640, 4700, 4940, 4988, 5144, 5372, 5440, 5492, 5588, 5628, 5732, 6092, 6164, 6228, 6332, 6464, 6512, 6564, 6700, 6752, 7074, 7122, 7286, 7482, 7526, 7674, 8014, 8154, 8214, 8378, 8618, 8686, 8954, 8994, 9054, 9170, 9302, 9410, 9450, 9494, 9554, 9614, 9802, 9845]
const s6416 = [70, 130, 234, 438, 558, 690, 730, 798, 846, 910, 990, 1346, 1578, 1662, 1818, 2202, 2298, 2418, 2502, 2778, 3198, 3310, 3340, 3488, 3548, 3584, 3620, 3670, 3908, 4060, 4108, 4184, 4580, 4952, 5048, 5960, 6068, 6188, 6308, 6632, 7074, 7274, 7366, 7422, 7654, 7746, 7934, 8186, 8354, 8498, 8606, 8822, 8922, 9326, 9374, 9530, 9614, 9654, 9694, 9754]
const s6415 = [30, 118, 294, 378, 466, 514, 534, 894, 1146, 1614, 2090, 2150, 2310, 2538, 3030, 3330, 4000, 4052, 4160, 4244, 4592, 4724, 6044, 6212, 6464, 6994, 7034, 7370, 7494, 7542, 7658, 7894, 7942, 8162, 8378, 8918, 9194, 9266, 9300, 9366, 9454, 9542, 9614, 9654, 9734, 9830]
const s6414 = [190, 230, 294, 486, 870, 1122, 1554, 1638, 1806, 2022, 2106, 2418, 2838, 2870, 3054, 3162, 3596, 3996, 4056, 4224, 4256, 4448, 4520, 4952, 5096, 5264, 5564, 5604, 6812, 6860, 7238, 7442, 7562, 8138, 8246, 8406, 8474, 8678, 8906, 9002, 9474, 9674, 9734]
const s6413 = [78, 618, 822, 2910, 3234, 4700, 4720, 4880, 6896, 7022, 7122, 7154, 7502, 7934, 8162, 8450, 8678, 9326, 9614, 9654]
const s6412 = [954, 1578, 2478, 3042, 3512, 3920, 7982, 8066, 8810, 9530, 9540, 9686]
const s6411 = [594, 3560, 3776, 4124, 4616]
const s6410 = [1086, 2958, 3126, 7850, 9158]
const s6409 = [3540, 3572, 5216, 9506]
const s6407 = [1482, 2922, 3632]
const s6406 = [8378]

const rows = [
  [6453, s6453], [6451, s6451], [6449, s6449], [6448, s6448], [6447, s6447], [6446, s6446],
  [6445, s6445], [6444, s6444], [6443, s6443], [6442, s6442], [6441, s6441], [6440, s6440],
  [6439, s6439], [6438, s6438], [6437, s6437], [6436, s6436], [6435, s6435], [6434, s6434],
  [6433, s6433], [6432, s6432], [6431, s6431], [6430, s6430], [6429, s6429], [6428, s6428],
  [6427, s6427], [6426, s6426], [6425, s6425], [6424, s6424], [6423, s6423], [6422, s6422],
  [6421, s6421], [6420, s6420], [6419, s6419], [6418, s6418], [6417, s6417], [6416, s6416],
  [6415, s6415], [6414, s6414], [6413, s6413], [6412, s6412], [6411, s6411], [6410, s6410],
  [6409, s6409], [6407, s6407], [6406, s6406]
]
const points = []
rows.forEach(r => r[1].forEach(s => points.push([s, r[0]])))

const font = 'DejaVu Sans'
const chart = echarts.init(document.getElementById('main'))
chart.setOption({
  animation: false,
  backgroundColor: '#fff',
  title: {
    text: 'Run 550, channel049, Pedestal',
    left: 527, top: 9, textAlign: 'center',
    textStyle: { fontFamily: font, fontSize: 16.67, fontWeight: 'normal', color: '#000' }
  },
  grid: { left: 81, top: 35.5, right: 15, bottom: 58, show: true, borderColor: '#000', borderWidth: 1, backgroundColor: 'transparent' },
  legend: {
    left: 772, top: 42, orient: 'vertical',
    padding: [5, 6, 5, 17],
    itemWidth: 6, itemHeight: 6, itemGap: 0,
    borderColor: '#ccc', borderWidth: 1, borderRadius: 3,
    backgroundColor: 'rgba(255,255,255,0.8)',
    formatter: () => 'Samples\n{i|μ} = 6428.28, {i|σ} = 5.96',
    textStyle: {
      fontFamily: font, fontSize: 13.9, color: '#000', lineHeight: 16, padding: [0, 0, 5, 16],
      rich: { i: { fontFamily: font, fontStyle: 'italic', fontSize: 13.9, color: '#000' } }
    }
  },
  xAxis: {
    type: 'value', min: -479, max: 10347,
    name: 'Sample #', nameLocation: 'middle', nameGap: 29,
    nameTextStyle: { fontFamily: font, fontSize: 13.9, color: '#000' },
    axisLine: { show: false, onZero: false },
    axisTick: { show: true, length: 3.5, customValues: xTicks, lineStyle: { color: '#000', width: 0.8 } },
    axisLabel: { customValues: xTicks, formatter: v => String(v), fontFamily: font, fontSize: 13.9, color: '#000', margin: 10 },
    splitLine: { show: true, lineStyle: { color: '#b0b0b0', width: 0.8 } }
  },
  yAxis: {
    type: 'value', min: 6403.65, max: 6455.35,
    name: 'ADC Counts', nameLocation: 'middle', nameGap: 47,
    nameTextStyle: { fontFamily: font, fontSize: 13.9, color: '#000' },
    axisLine: { show: false, onZero: false },
    axisTick: { show: true, length: 3.5, customValues: yTicks, lineStyle: { color: '#000', width: 0.8 } },
    axisLabel: { customValues: yTicks, formatter: v => String(v), fontFamily: font, fontSize: 13.9, color: '#000', margin: 10 },
    splitLine: { show: true, lineStyle: { color: '#b0b0b0', width: 0.8 } }
  },
  series: [{
    name: 'Samples', type: 'scatter', data: points,
    symbol: 'circle', symbolSize: 5.6, progressive: 0, silent: true,
    itemStyle: { color: '#000', opacity: 1 }
  }]
})
</script>
</body>
</html>
